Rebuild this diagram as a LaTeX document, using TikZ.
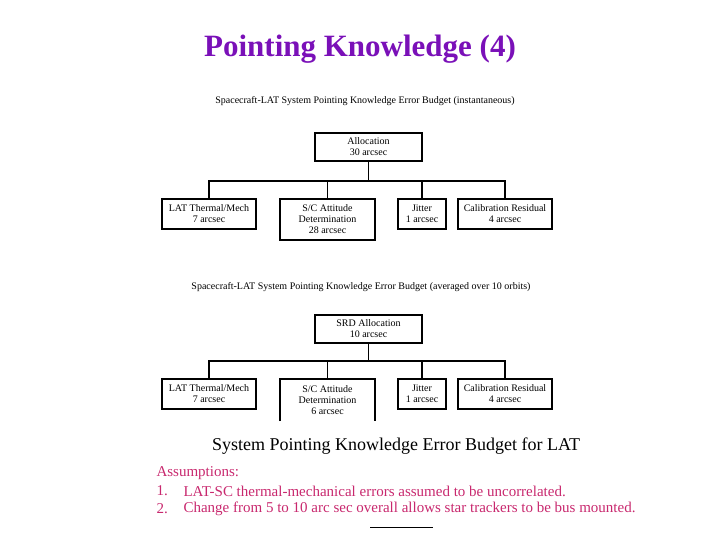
\documentclass[tikz,border=0pt]{standalone}
\usepackage{fontspec}
\setmainfont{Liberation Serif}
\begin{document}
\begin{tikzpicture}[x=1pt,y=-1pt,
  bx/.style={draw,line width=1.5pt,align=center,font=\fontsize{10}{11}\selectfont,inner sep=0pt},
  ln/.style={line width=1.8pt},
  captxt/.style={font=\fontsize{10}{11}\selectfont},
  pk/.style={text=pinkc,font=\fontsize{15}{16}\selectfont,anchor=west}]
\definecolor{pinkc}{HTML}{C8286E}
\definecolor{titc}{HTML}{7A10B8}
\useasboundingbox (0,0) rectangle (720,540);
\node[font=\bfseries\fontsize{31}{33}\selectfont,text=titc] (title) at (360,49) {Pointing Knowledge (4)};
% top tree
\node[captxt] (c1) at (365,101) {Spacecraft-LAT System Pointing Knowledge Error Budget (instantaneous)};
\node[bx,minimum width=107,minimum height=28] (a1) at (368.5,147) {Allocation\\30 arcsec};
\node[bx,minimum width=94,minimum height=30] (l1) at (209,214) {LAT Thermal/Mech\\7 arcsec};
\node[bx,minimum width=95,minimum height=41] (s1) at (327.5,219.5) {S/C Attitude\\Determination\\28 arcsec};
\node[bx,minimum width=48,minimum height=30] (j1) at (422,214) {Jitter\\1 arcsec};
\node[bx,minimum width=94,minimum height=30] (k1) at (505,214) {Calibration Residual\\4 arcsec};
\coordinate (b1) at (368.5,181);
\draw[ln] (a1.south) -- (b1);
\draw[ln] (l1.north) |- (b1) -| (k1.north);
\draw[ln] (s1.north) -- (s1.north|-b1);
\draw[ln] (j1.north) -- (j1.north|-b1);
% bottom tree
\node[captxt] (c2) at (361,287) {Spacecraft-LAT System Pointing Knowledge Error Budget (averaged over 10 orbits)};
\node[bx,minimum width=107,minimum height=28] (a2) at (368.5,329) {SRD Allocation\\10 arcsec};
\node[bx,minimum width=94,minimum height=30] (l2) at (209,394) {LAT Thermal/Mech\\7 arcsec};
\node[align=center,font=\fontsize{10}{11}\selectfont,inner sep=0pt,minimum width=95,minimum height=42] (s2) at (327.5,400) {S/C Attitude\\Determination\\6 arcsec};
\draw[ln] (s2.south west) |- (s2.north east) -- (s2.south east);
\node[bx,minimum width=48,minimum height=30] (j2) at (422,394) {Jitter\\1 arcsec};
\node[bx,minimum width=94,minimum height=30] (k2) at (505,394) {Calibration Residual\\4 arcsec};
\coordinate (b2) at (368.5,361);
\draw[ln] (a2.south) -- (b2);
\draw[ln] (l2.north) |- (b2) -| (k2.north);
\draw[ln] (s2.north) -- (s2.north|-b2);
\draw[ln] (j2.north) -- (j2.north|-b2);
\node[font=\fontsize{18}{19}\selectfont] (sys) at (396,446) {System Pointing Knowledge Error Budget for LAT};
\node[pk] (as) at (153,473) {Assumptions:};
\node[pk] (n1) at (153,491) {1.};
\node[pk] (t1) at (180,491) {LAT-SC thermal-mechanical errors assumed to be uncorrelated.};
\node[pk] (n2) at (153,509) {2.};
\node[pk] (t2) at (180,509) {Change from 5 to 10 arc sec overall allows star trackers to be bus mounted.};
\coordinate (f1) at (370,527); \coordinate (f2) at (433,527);
\draw[line width=1pt] (f1) -- (f2);
\end{tikzpicture}
\end{document}
